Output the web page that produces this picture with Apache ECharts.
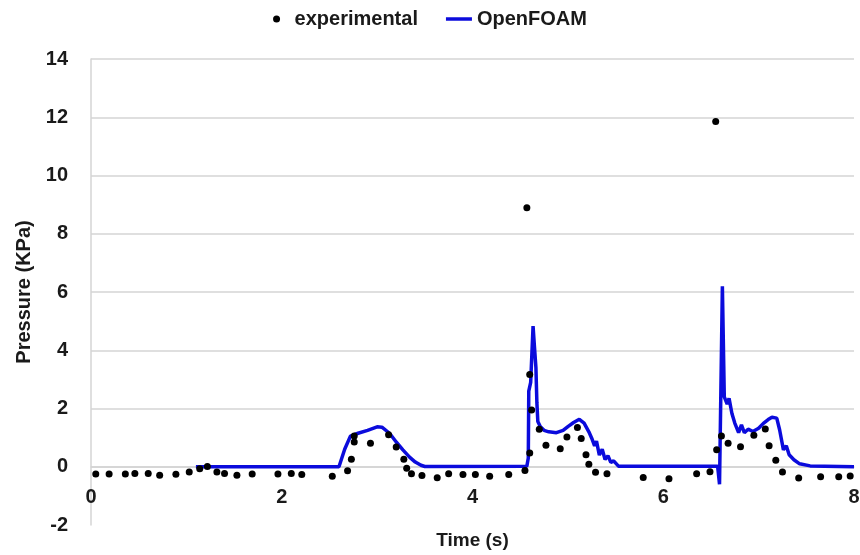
<!DOCTYPE html>
<html>
<head>
<meta charset="utf-8">
<script src="https://cdn.jsdelivr.net/npm/echarts@6/dist/echarts.min.js"></script>
<style>
  html, body { margin: 0; padding: 0; background: #fff; }
  #chart { width: 860px; height: 555px; }
</style>
</head>
<body>
<div id="chart"></div>
<script>
// experimental measurements (time s, pressure kPa)
var expTime = [0.05, 0.19, 0.36, 0.46, 0.60, 0.72, 0.89, 1.03, 1.14, 1.22, 1.32, 1.40, 1.53, 1.69, 1.96, 2.10, 2.21,
	2.53, 2.69, 2.73, 2.76, 2.76, 2.93, 3.12, 3.20, 3.28, 3.31, 3.36, 3.47, 3.63, 3.75, 3.90, 4.03, 4.18, 4.38,
	4.55, 4.57, 4.60, 4.60, 4.62, 4.70, 4.77, 4.92, 4.99, 5.10, 5.14, 5.19, 5.22, 5.29, 5.41,
	5.79, 6.06, 6.35, 6.49, 6.55, 6.56, 6.61, 6.68, 6.81, 6.95, 7.07, 7.11, 7.18, 7.25, 7.42, 7.65, 7.84, 7.96];
var expPressure = [-0.25, -0.25, -0.25, -0.23, -0.23, -0.29, -0.26, -0.18, -0.07, 0.01, -0.18, -0.23, -0.29, -0.25, -0.25, -0.23, -0.27,
	-0.33, -0.14, 0.26, 0.85, 1.06, 0.81, 1.10, 0.68, 0.26, -0.05, -0.24, -0.30, -0.38, -0.24, -0.27, -0.27, -0.33, -0.27,
	-0.13, 8.89, 0.47, 3.17, 1.95, 1.29, 0.74, 0.62, 1.02, 1.35, 0.97, 0.41, 0.09, -0.19, -0.24,
	-0.37, -0.41, -0.24, -0.17, 11.85, 0.58, 1.06, 0.81, 0.69, 1.08, 1.30, 0.72, 0.22, -0.18, -0.39, -0.34, -0.34, -0.32];

// OpenFOAM simulation
var foamTime = [1.10, 2.60, 2.66, 2.72, 2.80, 2.90, 3.00, 3.05, 3.13, 3.20, 3.27, 3.34, 3.40, 3.46, 3.50,
	4.57, 4.585, 4.59, 4.61, 4.635, 4.65, 4.665, 4.675, 4.685, 4.71, 4.75, 4.80, 4.88, 4.95, 5.00, 5.06, 5.12,
	5.17, 5.22, 5.25, 5.28, 5.30, 5.33, 5.36, 5.39, 5.42, 5.45, 5.48, 5.53,
	6.57, 6.59, 6.62, 6.64, 6.67, 6.69, 6.72, 6.75, 6.79, 6.82, 6.85, 6.89, 6.94, 7.00, 7.05, 7.10, 7.14, 7.19,
	7.22, 7.26, 7.29, 7.32, 7.37, 7.43, 7.54, 8.00];
var foamPressure = [0, 0, 0.6, 1.05, 1.15, 1.25, 1.37, 1.36, 1.15, 0.85, 0.58, 0.33, 0.16, 0.05, 0.01,
	0.02, 0.3, 2.6, 2.9, 4.83, 4.1, 3.4, 2.2, 1.55, 1.38, 1.25, 1.2, 1.17, 1.25, 1.38, 1.52, 1.63,
	1.5, 1.2, 0.98, 0.72, 0.88, 0.4, 0.6, 0.25, 0.38, 0.15, 0.2, 0.02,
	0.02, -0.6, 6.2, 2.4, 2.15, 2.35, 1.83, 1.5, 1.17, 1.44, 1.17, 1.29, 1.21, 1.32, 1.49, 1.62, 1.70, 1.67,
	1.27, 0.58, 0.72, 0.41, 0.24, 0.10, 0.03, 0.0];

var yTicks = [-2, 0, 2, 4, 6, 8, 10, 12, 14];

function pairs(xs, ys) {
	var out = [];
	for (var i = 0; i < xs.length; i++) {
		out.push([xs[i], ys[i]]);
	}
	return out;
}

var fontFamily = '"Liberation Sans", Arial, sans-serif';
var gridColor = '#d4d4d4';
var blue = '#0b0bdc';

// no gridline at -2, gray elsewhere
var splitColors = yTicks.map(function (v) { return v === -2 ? 'rgba(0,0,0,0)' : gridColor; });

var chart = echarts.init(document.getElementById('chart'));
chart.setOption({
	animation: false,
	backgroundColor: '#fff',
	textStyle: { fontFamily: fontFamily },
	legend: {
		top: 4,
		left: 'center',
		itemWidth: 26,
		itemHeight: 7,
		itemGap: 28,
		textStyle: { fontSize: 20, fontWeight: 'bold', color: '#1a1a1a', fontFamily: fontFamily },
		data: [
			{ name: 'experimental', icon: 'circle', itemStyle: { color: '#000', opacity: 1 } },
			{ name: 'OpenFOAM', icon: 'path://M0,0H26V3.5H0Z', itemStyle: { color: blue } }
		]
	},
	grid: { left: 91, right: 6, top: 59, bottom: 30, outerBoundsMode: 'none' },
	xAxis: {
		type: 'value',
		min: 0,
		max: 8,
		interval: 2,
		// axis sits on the y=0 line (2 units above the bottom of the plot)
		offset: -58,
		name: 'Time (s)',
		nameLocation: 'middle',
		nameGap: 64,
		nameTextStyle: { fontSize: 19, fontWeight: 'bold', color: '#1a1a1a' },
		axisLine: { onZero: false, lineStyle: { color: gridColor, width: 1.5 } },
		axisTick: { show: false },
		splitLine: { show: false },
		axisLabel: { fontSize: 20, fontWeight: 'bold', color: '#1a1a1a', margin: 20 }
	},
	yAxis: {
		type: 'value',
		min: -2,
		max: 14,
		interval: 2,
		name: 'Pressure (KPa)',
		nameLocation: 'middle',
		nameGap: 54,
		nameTextStyle: { fontSize: 20, fontWeight: 'bold', color: '#1a1a1a' },
		axisLine: { show: true, lineStyle: { color: gridColor, width: 1.5 } },
		axisTick: { show: false },
		splitLine: { show: true, lineStyle: { color: splitColors, width: 1.5 } },
		axisLabel: { fontSize: 20, fontWeight: 'bold', color: '#1a1a1a', margin: 23 }
	},
	series: [
		{
			name: 'OpenFOAM',
			type: 'line',
			data: pairs(foamTime, foamPressure),
			showSymbol: false,
			symbol: 'none',
			lineStyle: { color: blue, width: 3.5 },
			itemStyle: { color: blue },
			z: 2
		},
		{
			name: 'experimental',
			type: 'scatter',
			data: pairs(expTime, expPressure),
			symbol: 'circle',
			symbolSize: 7,
			itemStyle: { color: '#000', opacity: 1 },
			z: 3
		}
	]
});
</script>
</body>
</html>
